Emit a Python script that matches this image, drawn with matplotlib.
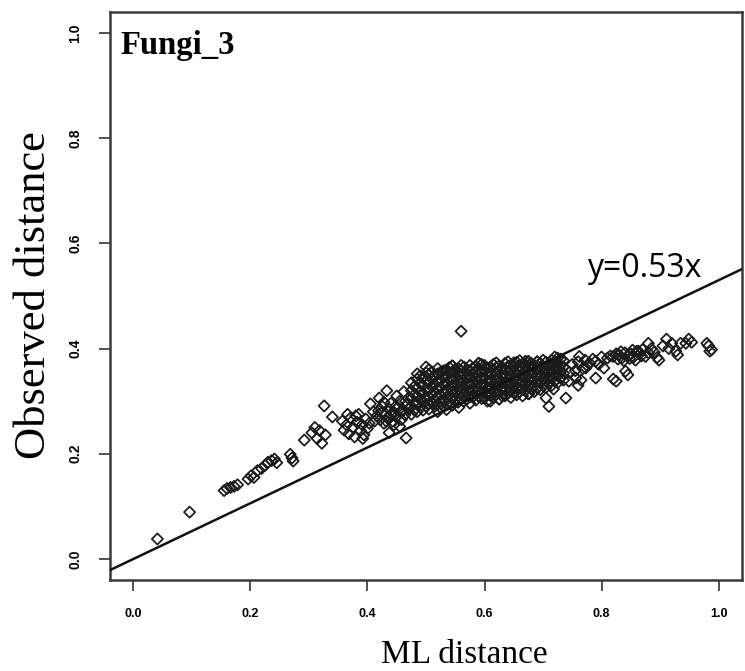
import matplotlib
matplotlib.use("Agg")
import matplotlib.pyplot as plt
import numpy as np

# ---- data ----
low_x = [0.041, 0.096, 0.155, 0.160, 0.166, 0.172, 0.178, 0.196, 0.201, 0.206,
         0.212, 0.219, 0.225, 0.230, 0.236, 0.241, 0.245, 0.268, 0.271, 0.273,
         0.292, 0.305, 0.310, 0.318, 0.314, 0.322, 0.328, 0.326, 0.340]
low_y = [0.038, 0.089, 0.130, 0.134, 0.136, 0.138, 0.141, 0.152, 0.158, 0.155,
         0.168, 0.172, 0.178, 0.184, 0.187, 0.190, 0.183, 0.199, 0.192, 0.186,
         0.226, 0.240, 0.250, 0.244, 0.229, 0.220, 0.236, 0.291, 0.270]

mid_x = [0.357, 0.360, 0.364, 0.368, 0.371, 0.375, 0.378, 0.382, 0.385, 0.388,
         0.391, 0.394, 0.397, 0.400, 0.403, 0.380, 0.366, 0.392,
         0.420, 0.433, 0.437, 0.466,
         0.412, 0.416, 0.419, 0.422, 0.425, 0.428, 0.431, 0.434, 0.437, 0.440,
         0.443, 0.446, 0.449, 0.452, 0.455, 0.458, 0.461, 0.464, 0.467, 0.470,
         0.445, 0.455, 0.428, 0.410, 0.405, 0.450, 0.462, 0.470,
         0.440, 0.448, 0.456, 0.465, 0.432, 0.424]
mid_y = [0.262, 0.245, 0.255, 0.238, 0.268, 0.250, 0.232, 0.260, 0.275, 0.244,
         0.255, 0.236, 0.266, 0.248, 0.258, 0.272, 0.275, 0.229,
         0.306, 0.320, 0.240, 0.230,
         0.262, 0.272, 0.282, 0.265, 0.290, 0.258, 0.276, 0.268, 0.285, 0.296,
         0.262, 0.278, 0.270, 0.288, 0.300, 0.265, 0.282, 0.274, 0.294, 0.305,
         0.255, 0.252, 0.298, 0.280, 0.295, 0.310, 0.318, 0.285,
         0.275, 0.290, 0.280, 0.300, 0.262, 0.278]

band_cols = [0.475, 0.485, 0.495, 0.505, 0.515, 0.525, 0.535, 0.545, 0.555,
             0.565, 0.575, 0.585, 0.595, 0.605, 0.615, 0.625, 0.635, 0.645,
             0.655, 0.665, 0.675, 0.685, 0.695, 0.705, 0.715, 0.725, 0.735]
band_vals = [
    [0.275, 0.290, 0.305, 0.320, 0.335],
    [0.280, 0.297, 0.310, 0.325, 0.342, 0.352],
    [0.283, 0.300, 0.315, 0.330, 0.345],
    [0.285, 0.295, 0.308, 0.322, 0.336, 0.350, 0.360],
    [0.290, 0.303, 0.318, 0.332, 0.347],
    [0.288, 0.300, 0.312, 0.326, 0.340, 0.355],
    [0.295, 0.307, 0.320, 0.334, 0.348, 0.360],
    [0.292, 0.305, 0.318, 0.330, 0.343, 0.356, 0.367],
    [0.298, 0.310, 0.323, 0.337, 0.350, 0.362],
    [0.300, 0.313, 0.326, 0.340, 0.353, 0.365],
    [0.296, 0.308, 0.320, 0.333, 0.346, 0.358, 0.368],
    [0.302, 0.315, 0.328, 0.341, 0.354, 0.366],
    [0.305, 0.318, 0.331, 0.344, 0.357, 0.370],
    [0.300, 0.312, 0.325, 0.338, 0.351, 0.363],
    [0.307, 0.320, 0.333, 0.346, 0.359, 0.370],
    [0.304, 0.316, 0.329, 0.342, 0.355, 0.367],
    [0.310, 0.322, 0.335, 0.348, 0.360, 0.372],
    [0.307, 0.319, 0.332, 0.345, 0.357, 0.369],
    [0.312, 0.325, 0.338, 0.350, 0.362, 0.374],
    [0.310, 0.322, 0.335, 0.347, 0.360, 0.371],
    [0.314, 0.327, 0.340, 0.352, 0.364, 0.376],
    [0.318, 0.330, 0.343, 0.356, 0.368],
    [0.322, 0.335, 0.347, 0.360, 0.372],
    [0.326, 0.338, 0.350, 0.362, 0.374],
    [0.330, 0.343, 0.355, 0.367, 0.378],
    [0.335, 0.348, 0.360, 0.372, 0.382],
    [0.340, 0.353, 0.365, 0.377],
]

band2_cols = [0.480, 0.490, 0.500, 0.510, 0.520, 0.530, 0.540, 0.550, 0.560,
              0.570, 0.580, 0.590, 0.600, 0.610, 0.620, 0.630, 0.640, 0.650,
              0.660, 0.670, 0.680, 0.690, 0.700, 0.710, 0.720, 0.730]
band2_vals = [
    [0.283, 0.298, 0.313, 0.328],
    [0.288, 0.303, 0.318, 0.334, 0.348],
    [0.291, 0.306, 0.322, 0.338, 0.354],
    [0.297, 0.312, 0.327, 0.342, 0.356],
    [0.294, 0.309, 0.324, 0.339, 0.352, 0.362],
    [0.301, 0.316, 0.331, 0.345, 0.358],
    [0.299, 0.313, 0.327, 0.341, 0.354, 0.364],
    [0.303, 0.317, 0.331, 0.345, 0.360],
    [0.305, 0.319, 0.333, 0.346, 0.358, 0.368],
    [0.304, 0.318, 0.332, 0.346, 0.360],
    [0.308, 0.322, 0.336, 0.350, 0.363],
    [0.309, 0.322, 0.336, 0.349, 0.362, 0.372],
    [0.306, 0.319, 0.332, 0.345, 0.358, 0.368],
    [0.311, 0.324, 0.338, 0.352, 0.365],
    [0.313, 0.326, 0.339, 0.352, 0.364, 0.373],
    [0.310, 0.323, 0.336, 0.349, 0.362],
    [0.315, 0.328, 0.341, 0.354, 0.366, 0.375],
    [0.316, 0.329, 0.342, 0.355, 0.367],
    [0.318, 0.331, 0.344, 0.356, 0.368, 0.377],
    [0.320, 0.333, 0.346, 0.358, 0.370],
    [0.323, 0.336, 0.348, 0.360, 0.372],
    [0.325, 0.338, 0.350, 0.362, 0.375],
    [0.329, 0.342, 0.354, 0.366, 0.378],
    [0.333, 0.346, 0.358, 0.370],
    [0.338, 0.350, 0.362, 0.374, 0.384],
    [0.344, 0.356, 0.368, 0.380],
]

extra_x = [0.545, 0.560, 0.650, 0.670, 0.690, 0.625, 0.676, 0.705, 0.710, 0.718,
           0.739, 0.744, 0.756, 0.520, 0.535, 0.556, 0.500, 0.590, 0.610]
extra_y = [0.367, 0.433, 0.373, 0.376, 0.375, 0.304, 0.314, 0.306, 0.290, 0.323,
           0.306, 0.338, 0.344, 0.280, 0.284, 0.288, 0.365, 0.372, 0.300]

tail_x = [0.745, 0.750, 0.755, 0.760, 0.762, 0.768, 0.772, 0.775, 0.780, 0.785,
          0.790, 0.795, 0.800, 0.804, 0.810, 0.815, 0.820, 0.825, 0.830, 0.835,
          0.840, 0.845, 0.850, 0.855, 0.860, 0.865, 0.870, 0.875, 0.880, 0.885,
          0.890, 0.895, 0.898, 0.905, 0.911, 0.915, 0.920, 0.927, 0.930, 0.935,
          0.944, 0.949, 0.954, 0.980, 0.983, 0.988, 0.985,
          0.820, 0.825, 0.841, 0.845, 0.773, 0.790, 0.765, 0.760, 0.863, 0.880,
          0.828, 0.838, 0.848, 0.858, 0.868, 0.833, 0.853]
tail_y = [0.355, 0.370, 0.358, 0.375, 0.385, 0.362, 0.378, 0.368, 0.372, 0.380,
          0.376, 0.370, 0.384, 0.363, 0.382, 0.386, 0.385, 0.390, 0.388, 0.382,
          0.392, 0.386, 0.390, 0.384, 0.395, 0.390, 0.398, 0.385, 0.392, 0.400,
          0.393, 0.383, 0.378, 0.405, 0.418, 0.400, 0.410, 0.395, 0.388, 0.410,
          0.410, 0.418, 0.412, 0.410, 0.405, 0.398, 0.395,
          0.342, 0.338, 0.357, 0.350, 0.363, 0.344, 0.340, 0.330, 0.395, 0.410,
          0.380, 0.377, 0.381, 0.378, 0.386, 0.394, 0.397]

slope = 0.53
x_ticks = [0.0, 0.2, 0.4, 0.6, 0.8, 1.0]
y_ticks = [0.0, 0.2, 0.4, 0.6, 0.8, 1.0]

# ---- assemble ----
band_x = [c for c, vals in zip(band_cols, band_vals) for _ in vals]
band_y = [v for vals in band_vals for v in vals]
band2_x = [c for c, vals in zip(band2_cols, band2_vals) for _ in vals]
band2_y = [v for vals in band2_vals for v in vals]
xs = np.array(low_x + mid_x + band_x + band2_x + extra_x + tail_x)
ys = np.array(low_y + mid_y + band_y + band2_y + extra_y + tail_y)

fig = plt.figure(figsize=(7.45, 6.71), dpi=100)
ax = fig.add_axes([110/745, 91/671, 632/745, 568/671])

ax.scatter(xs, ys, marker='D', s=32, facecolors='none', edgecolors='#1a1a1a',
           linewidths=1.25, zorder=3)

lx = np.array([-0.04, 1.04])
ax.plot(lx, slope * lx, color='#111111', lw=1.8, zorder=4)

ax.set_xlim(-0.04, 1.04)
ax.set_ylim(-0.04, 1.04)
ax.set_xticks(x_ticks)
ax.set_yticks(y_ticks)
ax.set_xticklabels([f"{t:.1f}" for t in x_ticks], fontsize=9, fontweight='bold',
                   family='Liberation Sans')
ax.set_yticklabels([f"{t:.1f}" for t in y_ticks], fontsize=10, fontweight='bold',
                   family='Liberation Sans', rotation=90, va='center')
ax.tick_params(axis='both', direction='out', length=8, width=1.2, color='#333333')
ax.tick_params(axis='x', pad=12)
ax.tick_params(axis='y', pad=12)
for s in ax.spines.values():
    s.set_linewidth(1.8)
    s.set_color('#3a3a3a')

fig.text(464/745, 1 - 655/671, "ML distance", family='Liberation Serif', fontsize=24,
         ha='center', va='center')
fig.text(34/745, 1 - 295/671, "Observed distance", family='Liberation Serif',
         fontsize=32, rotation=90, ha='center', va='center')

ax.text(0.017, 0.968, "Fungi_3", transform=ax.transAxes, family='Liberation Serif',
        fontweight='bold', fontsize=23.5, va='top', ha='left')
ax.text(0.846, 0.549, "y=0.53x", transform=ax.transAxes, family='Open Sans',
        fontsize=23, ha='center', va='center')

fig.savefig("out.png", dpi=100)
